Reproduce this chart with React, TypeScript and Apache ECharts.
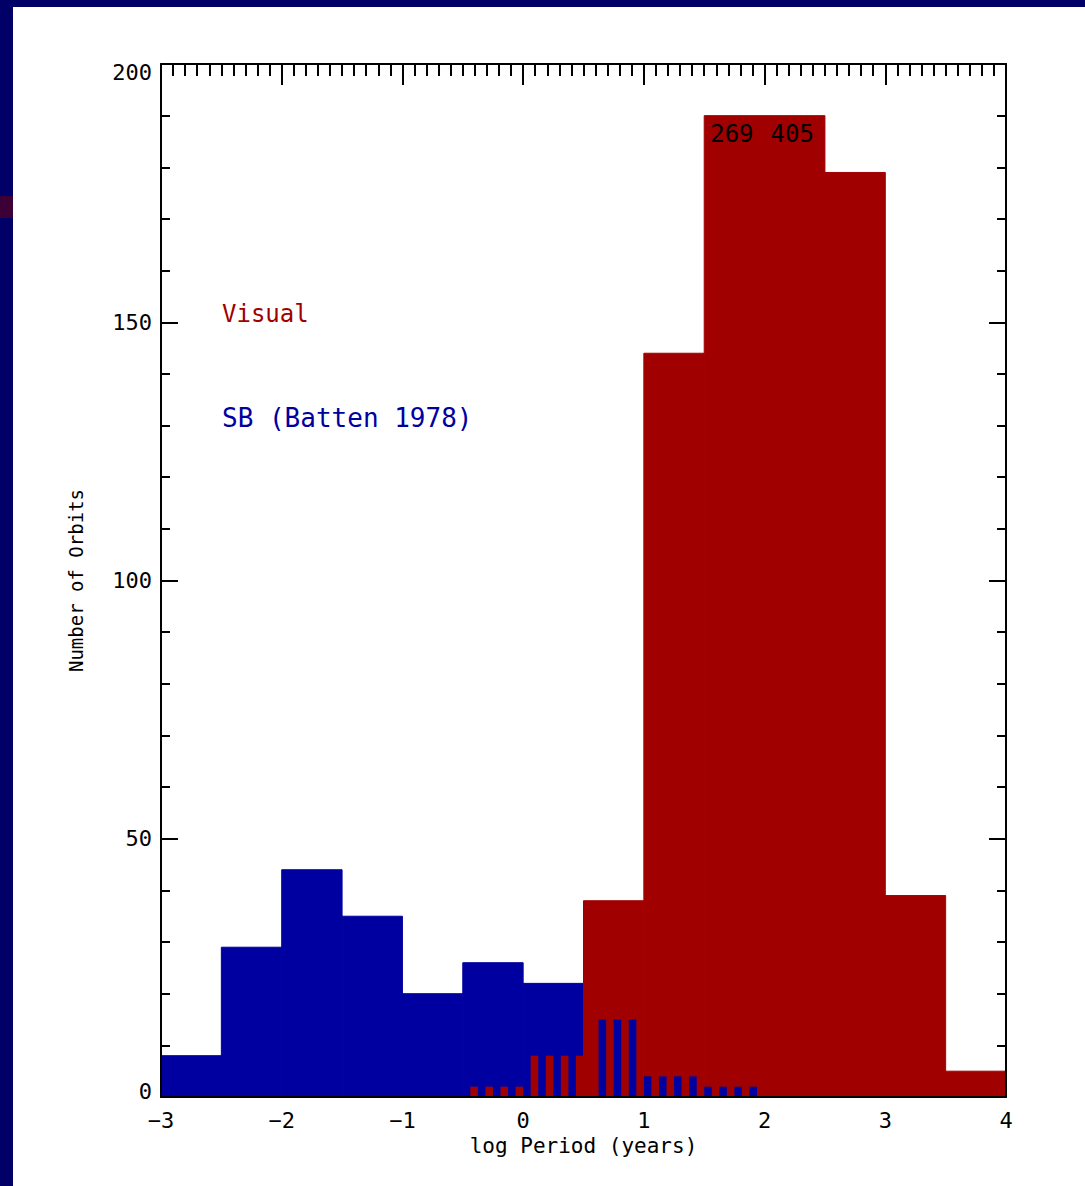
import React, { useEffect, useRef } from "react";
import * as echarts from "echarts";

// ---- data ----
const BIN_STARTS = [-3, -2.5, -2, -1.5, -1, -0.5, 0, 0.5, 1, 1.5, 2, 2.5, 3, 3.5];
const BIN_WIDTH = 0.5;
const SB_COUNTS = [8, 29, 44, 35, 20, 26, 22, 15, 4, 2, 0, 0, 0, 0];
const VISUAL_COUNTS = [0, 0, 0, 0, 0, 2, 8, 38, 144, 269, 405, 179, 39, 5];
const Y_CLIP = 190;
// overlap stripes (start positions in log Period)
const VISUAL_STRIPE_STARTS = [-0.4375, -0.3125, -0.1875, -0.0625, 0.0625, 0.1875, 0.3125, 0.4375];
const SB_STRIPE_STARTS = [0.625, 0.75, 0.875, 1, 1.125, 1.25, 1.375, 1.5, 1.625, 1.75, 1.875];
const STRIPE_WIDTH = 0.0625;
const X_TICKS = [-3, -2, -1, 0, 1, 2, 3, 4];
const Y_TICKS = [0, 50, 100, 150, 200];

const RED = "#A00000";
const BLUE = "#0000A0";
const NAVY = "#000066";
const FONT = "DejaVu Sans Mono";

function binIndex(x: number) {
  for (let i = 0; i < BIN_STARTS.length; i++) {
    if (x >= BIN_STARTS[i] && x < BIN_STARTS[i] + BIN_WIDTH) return i;
  }
  return -1;
}

function makeRender(color: string, solid: boolean) {
  return (params: any, api: any) => {
    const x0 = api.value(0);
    const x1 = api.value(1);
    const v = api.value(2);
    const p0 = api.coord([x0, 0]);
    const p1 = api.coord([x1, Math.min(v, Y_CLIP)]);
    const rect = {
      type: "rect",
      shape: { x: p0[0], y: p1[1], width: p1[0] - p0[0], height: p0[1] - p1[1] },
      style: solid ? { fill: color, stroke: color, lineWidth: 1 } : { fill: color },
    };
    if (v > Y_CLIP) {
      return {
        type: "group",
        children: [
          rect,
          {
            type: "text",
            x: p0[0] + 6,
            y: p1[1] + 18,
            style: {
              text: String(v),
              fill: "#000",
              fontSize: 24,
              fontFamily: FONT,
              align: "left",
              verticalAlign: "middle",
            },
          },
        ],
      };
    }
    return rect;
  };
}

export default function App() {
  const ref = useRef<HTMLDivElement>(null);
  useEffect(() => {
    document.body.style.margin = "0";
    const chart = echarts.init(ref.current!, null, { renderer: "svg" });

    const sbSolid: number[][] = [];
    const visSolid: number[][] = [];
    BIN_STARTS.forEach((s, i) => {
      const sb = SB_COUNTS[i];
      const vi = VISUAL_COUNTS[i];
      if (sb >= vi && sb > 0) sbSolid.push([s, s + BIN_WIDTH, sb]);
      else if (vi > sb) visSolid.push([s, s + BIN_WIDTH, vi]);
    });
    const visStripes = VISUAL_STRIPE_STARTS.map((s) => [s, s + STRIPE_WIDTH, VISUAL_COUNTS[binIndex(s)]]);
    const sbStripes = SB_STRIPE_STARTS.map((s) => [s, s + STRIPE_WIDTH, SB_COUNTS[binIndex(s)]]);

    const lineStyle = { color: "#000", width: 2 };
    const labelFont = { fontSize: 22, fontFamily: FONT, color: "#000" };

    chart.setOption({
      animation: false,
      backgroundColor: NAVY,
      graphic: [
        { type: "rect", z: -1, shape: { x: 13, y: 7, width: 1072, height: 1179 }, style: { fill: "#fff" } },
        { type: "rect", z: -1, shape: { x: 0, y: 196, width: 13, height: 22 }, style: { fill: "#3c0036" } },
        {
          type: "text",
          z: 10,
          x: 222,
          y: 314,
          style: { text: "Visual", fill: RED, fontSize: 24, fontFamily: FONT, verticalAlign: "middle" },
        },
        {
          type: "text",
          z: 10,
          x: 222,
          y: 418,
          style: { text: "SB (Batten 1978)", fill: BLUE, fontSize: 26, fontFamily: FONT, verticalAlign: "middle" },
        },
      ],
      grid: { left: 161, top: 64, right: 79, bottom: 89, containLabel: false, outerBoundsMode: "none" },
      xAxis: [
        {
          type: "value",
          position: "bottom",
          min: X_TICKS[0],
          max: X_TICKS[X_TICKS.length - 1],
          interval: 1,
          z: 3,
          axisLine: { show: true, onZero: false, lineStyle },
          axisTick: { show: false },
          minorTick: { show: false },
          splitLine: { show: false },
          axisLabel: {
            ...labelFont,
            margin: 12,
            formatter: (v: number) => (v < 0 ? "\u2212" + -v : String(v)),
          },
          name: "log Period (years)",
          nameLocation: "middle",
          nameGap: 38,
          nameTextStyle: { fontSize: 21, fontFamily: FONT, color: "#000" },
        },
        {
          type: "value",
          position: "top",
          min: X_TICKS[0],
          max: X_TICKS[X_TICKS.length - 1],
          interval: 1,
          z: 3,
          axisLine: { show: true, onZero: false, lineStyle },
          axisTick: { show: true, inside: true, length: 21, lineStyle },
          minorTick: { show: true, splitNumber: 10, length: 12, lineStyle },
          splitLine: { show: false },
          axisLabel: { show: false },
        },
      ],
      yAxis: [
        {
          type: "value",
          position: "left",
          min: Y_TICKS[0],
          max: Y_TICKS[Y_TICKS.length - 1],
          interval: 50,
          z: 3,
          axisLine: { show: true, onZero: false, lineStyle },
          axisTick: { show: true, inside: true, length: 17, lineStyle },
          minorTick: { show: true, splitNumber: 5, length: 9, lineStyle },
          splitLine: { show: false },
          axisLabel: {
            ...labelFont,
            margin: 9,
            formatter: (v: number) =>
              v === Y_TICKS[Y_TICKS.length - 1] ? "{t|" + v + "}" : v === 0 ? "{b|" + v + "}" : "{n|" + v + "}",
            rich: {
              t: { ...labelFont, padding: [16, 0, 0, 0] },
              b: { ...labelFont, padding: [0, 0, 12, 0] },
              n: { ...labelFont },
            },
          },
          name: "Number of Orbits",
          nameLocation: "middle",
          nameGap: 76,
          nameRotate: 90,
          nameTextStyle: { fontSize: 19, fontFamily: FONT, color: "#000" },
        },
        {
          type: "value",
          position: "right",
          min: Y_TICKS[0],
          max: Y_TICKS[Y_TICKS.length - 1],
          interval: 50,
          z: 3,
          axisLine: { show: true, onZero: false, lineStyle },
          axisTick: { show: true, inside: true, length: 17, lineStyle },
          minorTick: { show: true, splitNumber: 5, length: 9, lineStyle },
          splitLine: { show: false },
          axisLabel: { show: false },
        },
      ],
      series: [
        {
          name: "SB (Batten 1978)",
          type: "custom",
          xAxisIndex: 0,
          yAxisIndex: 0,
          renderItem: makeRender(BLUE, true),
          encode: { x: [0, 1], y: 2 },
          data: sbSolid,
        },
        {
          name: "Visual",
          type: "custom",
          xAxisIndex: 0,
          yAxisIndex: 0,
          renderItem: makeRender(RED, true),
          encode: { x: [0, 1], y: 2 },
          data: visSolid,
        },
        {
          name: "Visual (overlap)",
          type: "custom",
          xAxisIndex: 0,
          yAxisIndex: 0,
          renderItem: makeRender(RED, false),
          encode: { x: [0, 1], y: 2 },
          data: visStripes,
        },
        {
          name: "SB (overlap)",
          type: "custom",
          xAxisIndex: 0,
          yAxisIndex: 0,
          renderItem: makeRender(BLUE, false),
          encode: { x: [0, 1], y: 2 },
          data: sbStripes,
        },
      ],
    });
    return () => chart.dispose();
  }, []);
  return <div ref={ref} style={{ width: 1085, height: 1186 }} />;
}
